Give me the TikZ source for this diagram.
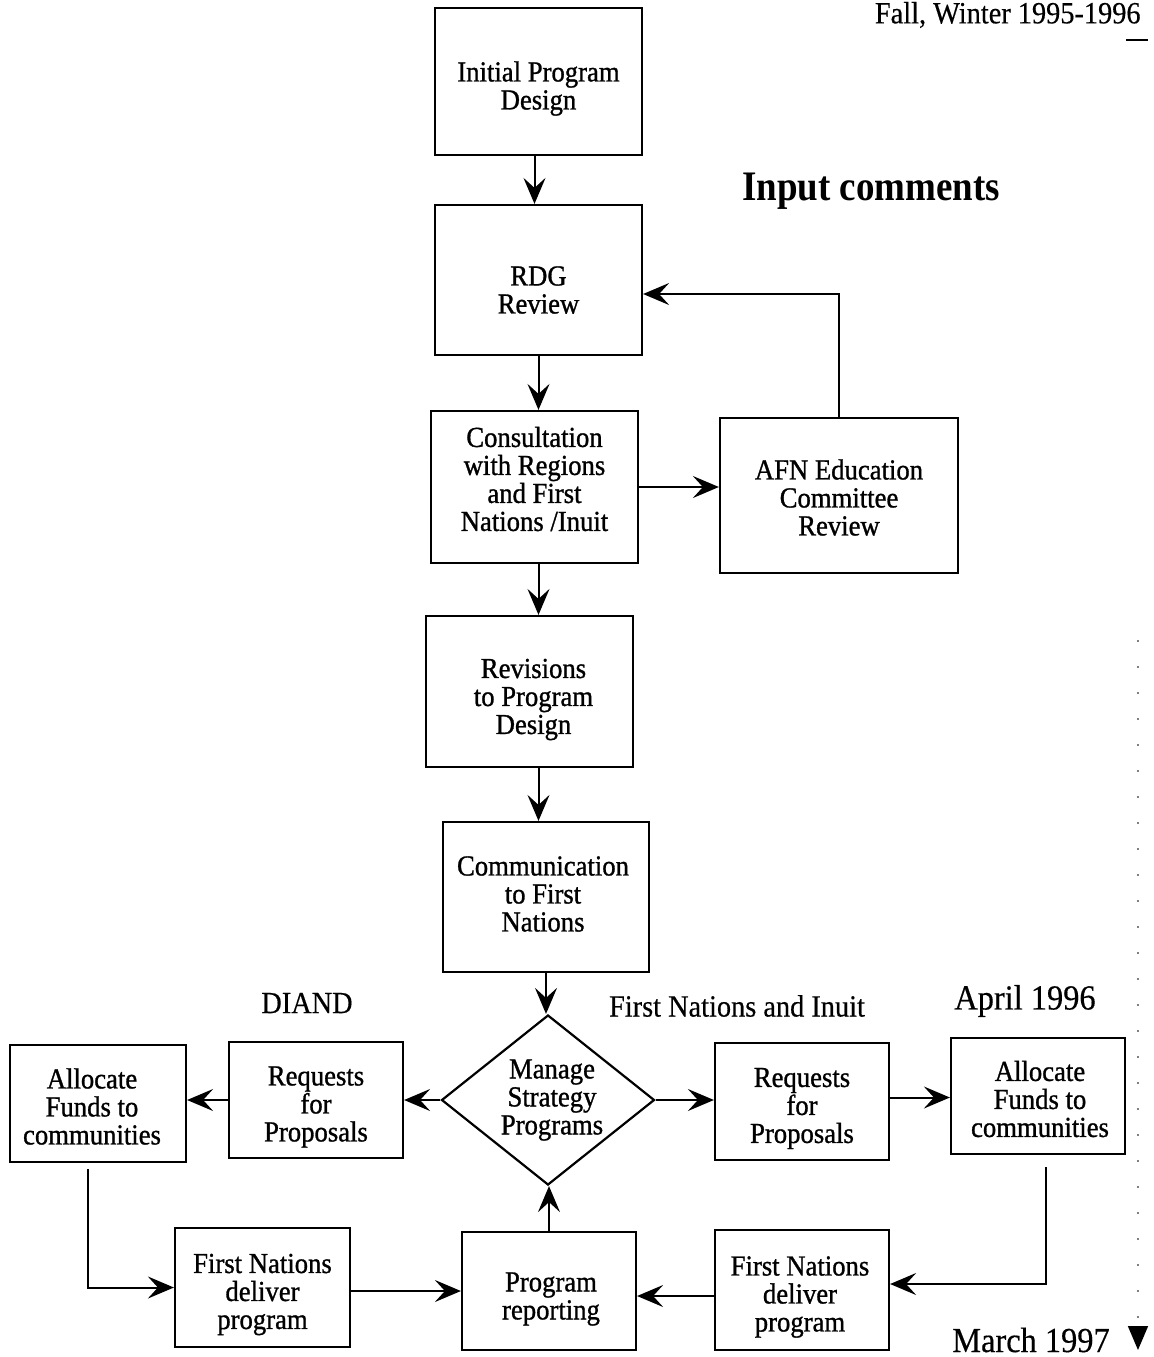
\documentclass[tikz,border=0pt]{standalone}
\usepackage{fontspec}
\setmainfont{Liberation Serif}
\newfontfamily\boxfont{Liberation Serif}[FakeStretch=0.92,FakeBold=1]
\newfontfamily\lblfont{Liberation Serif}[FakeStretch=0.92,FakeBold=0.4]
\newfontfamily\headfont{Liberation Serif}[FakeStretch=0.88]
\usetikzlibrary{shapes.geometric,arrows.meta}
\begin{document}
\begin{tikzpicture}[x=0.5pt,y=-0.5pt,
  box/.style={draw,line width=1.1pt,inner sep=0pt},
  txt/.style={align=center,inner sep=0pt,font=\boxfont\fontsize{14.5}{14}\selectfont},
  lbl/.style={inner sep=0pt,font=\lblfont\fontsize{15.4}{16}\selectfont},
  datelbl/.style={inner sep=0pt,font=\lblfont\fontsize{17.6}{18}\selectfont},
  conn/.style={line width=1pt,-{Stealth[length=13pt,width=11pt,inset=5pt]}}]
\useasboundingbox (0,0) rectangle (1154,1357);

% main column
\node[box,minimum width=103.5pt,minimum height=73.5pt] (b1) at (538.5,81.5) {};
\node[txt,yshift=-3.5pt] (b1t) at (b1) {Initial Program\\Design};
\node[box,minimum width=103.5pt,minimum height=75pt] (b2) at (538.5,280) {};
\node[txt,yshift=-5pt] (b2t) at (b2) {RDG\\Review};
\node[box,minimum width=103.5pt,minimum height=76pt] (b3) at (534.5,487) {};
\node[txt,yshift=4pt] (b3t) at (b3) {Consultation\\with Regions\\and First\\Nations /Inuit};
\node[box,minimum width=119pt,minimum height=77.5pt] (afn) at (839,495.5) {};
\node[txt,yshift=-1pt] (afnt) at (afn) {AFN Education\\Committee\\Review};
\node[box,minimum width=103.5pt,minimum height=75.5pt] (b4) at (529.5,691.5) {};
\node[txt,yshift=-4pt,xshift=2pt] (b4t) at (b4) {Revisions\\to Program\\Design};
\node[box,minimum width=103pt,minimum height=75pt] (b5) at (546,897) {};
\node[txt,yshift=1.5pt,xshift=-1.5pt] (b5t) at (b5) {Communication\\to First\\Nations};
\node[box,diamond,aspect=1.25,minimum width=106.5pt,minimum height=85pt] (dia) at (548,1100) {};
\node[txt,xshift=2pt] (diat) at (dia) {Manage\\Strategy\\Programs};

% lower row
\node[box,minimum width=87pt,minimum height=58pt] (lreq) at (316,1100) {};
\node[txt,yshift=-3.5pt] (lreqt) at (lreq) {Requests\\for\\Proposals};
\node[box,minimum width=88pt,minimum height=58.5pt] (lall) at (98,1103.5) {};
\node[txt,yshift=-1.5pt,xshift=-3pt] (lallt) at (lall) {Allocate\\Funds to\\communities};
\node[box,minimum width=87pt,minimum height=58.5pt] (rreq) at (802,1101.5) {};
\node[txt,yshift=-3.5pt] (rreqt) at (rreq) {Requests\\for\\Proposals};
\node[box,minimum width=87pt,minimum height=58pt] (rall) at (1038,1096) {};
\node[txt,yshift=-1.5pt,xshift=1pt] (rallt) at (rall) {Allocate\\Funds to\\communities};
\node[box,minimum width=87.5pt,minimum height=59.5pt] (lfn) at (262.5,1287.5) {};
\node[txt,yshift=-3.5pt] (lfnt) at (lfn) {First Nations\\deliver\\program};
\node[box,minimum width=87pt,minimum height=59pt] (rep) at (549,1291) {};
\node[txt,yshift=-4pt,xshift=1pt] (rept) at (rep) {Program\\reporting};
\node[box,minimum width=87pt,minimum height=60pt] (rfn) at (802,1290) {};
\node[txt,yshift=-3.5pt,xshift=-1pt] (rfnt) at (rfn) {First Nations\\deliver\\program};

% labels
\node[lbl,anchor=east] (fall) at (1141,15) {Fall, Winter 1995-1996};
\coordinate (ul1) at (1126,40);
\coordinate (ul2) at (1148,40);
\draw[line width=1pt] (ul1) -- (ul2);
\node[inner sep=0pt,font=\headfont\fontsize{21}{22}\selectfont\bfseries] (inp) at (871,191) {Input comments};
\node[lbl] (diand) at (307,1003) {DIAND};
\node[lbl] (fni) at (737,1006) {First Nations and Inuit};
\node[datelbl] (apr) at (1025,1001) {April 1996};
\node[datelbl] (mar) at (1031,1340) {March 1997};

% helper coordinates
\coordinate (b2in) at ([yshift=-7pt]b2.east);
\coordinate (rfnin) at ([yshift=3pt]rfn.east);

% connectors
\draw[conn] ([xshift=-2pt]b1.south) -- ([xshift=-2pt]b1.south |- b2.north);
\draw[conn] (b2.south) -- (b2.south |- b3.north);
\draw[conn] (b3.east) -- (b3.east -| afn.west);
\draw[conn] (afn.north) -- (afn.north |- b2in) -- (b2in);
\draw[conn] ([xshift=2pt]b3.south) -- ([xshift=2pt]b3.south |- b4.north);
\draw[conn] ([xshift=4.5pt]b4.south) -- ([xshift=4.5pt]b4.south |- b5.north);
\draw[conn] (b5.south) -- (b5.south |- dia.north);
\draw[conn] (dia.west) -- (lreq.east);
\draw[conn] (lreq.west) -- (lreq.west -| lall.east);
\draw[conn] (dia.east) -- (dia.east -| rreq.west);
\draw[conn] ([yshift=2pt]rreq.east) -- ([yshift=2pt]rreq.east -| rall.west);
\draw[conn,shorten <=3pt] ([xshift=-5pt]lall.south) -- ([xshift=-5pt]lall.south |- lfn.west) -- (lfn.west);
\draw[conn] (lfn.east |- rep.west) -- (rep.west);
\draw[conn] (rep.north) -- (rep.north |- dia.south);
\draw[conn,shorten <=6pt] ([xshift=4pt]rall.south) -- ([xshift=4pt]rall.south |- rfnin) -- (rfnin);
\draw[conn] ([yshift=-3pt]rfn.west) -- ([yshift=-3pt]rfn.west -| rep.east);

% timeline
\coordinate (t1) at (1138,640);
\coordinate (t2) at (1138,1326);
\coordinate (t3) at (1138,1350);
\draw[gray,line width=0.6pt,dash pattern=on 1pt off 12pt] (t1) -- (t2);
\draw[line width=0.8pt,-{Triangle[length=12pt,width=10pt]}] (t2) -- (t3);
\end{tikzpicture}
\end{document}
